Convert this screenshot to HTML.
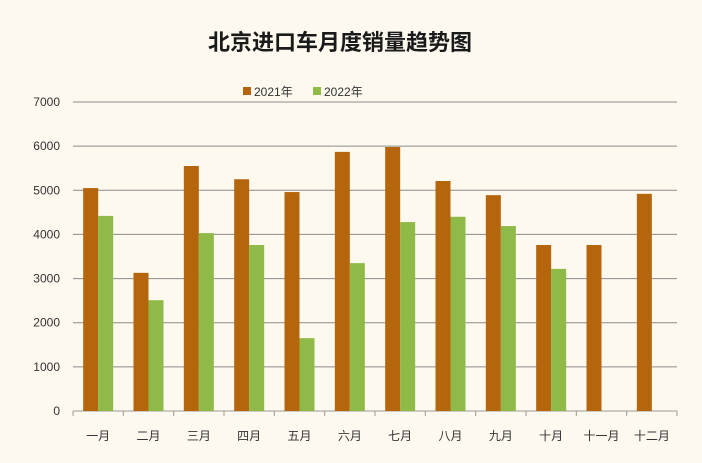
<!DOCTYPE html>
<html><head><meta charset="utf-8"><style>
body{margin:0;background:#fdf9ee;}
svg{display:block;font-family:"Liberation Sans","Noto Sans CJK SC",sans-serif;}
</style></head><body>
<svg id="c" width="702" height="463" viewBox="0 0 702 463">
<rect width="702" height="463" fill="#fdf9ee"/>
<text x="340" y="50" text-anchor="middle" font-size="22" font-weight="bold" fill="#1a1a1a">北京进口车月度销量趋势图</text>
<g>
<rect x="243" y="87" width="8" height="8" fill="#b5650b"/>
<text x="254" y="96" font-size="12" fill="#333">2021年</text>
<rect x="313" y="87" width="8" height="8" fill="#8fba48"/>
<text x="324" y="96" font-size="12" fill="#333">2022年</text>
</g>
<g id="grid"></g><g id="bars"></g><g id="axes"></g>
</svg>
<script>
const categories=["一月","二月","三月","四月","五月","六月","七月","八月","九月","十月","十一月","十二月"];
const sales2021=[5050,3130,5550,5250,4960,5870,5980,5210,4890,3760,3760,4920];
const sales2022=[4420,2510,4030,3760,1650,3350,4280,4400,4190,3220,null,null];
const yTicks=[0,1000,2000,3000,4000,5000,6000,7000];
const NS="http://www.w3.org/2000/svg";
const X0=73,X1=677,Y0=411,Y1=102,YMAX=7000;
const bw=(X1-X0)/categories.length;
const y=v=>Y0-(v/YMAX)*(Y0-Y1);
const xc=i=>X0+bw*(i+0.5);
function mk(tag,attrs,parent){const e=document.createElementNS(NS,tag);for(const k in attrs)e.setAttribute(k,attrs[k]);document.getElementById(parent).appendChild(e);return e;}
yTicks.forEach(t=>{
 const l=mk('line',{x1:X0,x2:X1,y1:y(t),y2:y(t),stroke:t===0?'#999':'#8a8a8a','stroke-width':1},'grid');
 
 
 const tx=mk('text',{x:60,y:y(t)+4,'text-anchor':'end','font-size':12,fill:'#333'},'axes');
 tx.textContent=t;
 
 
});
categories.forEach((c,i)=>{
 const tk=mk('line',{x1:X0+bw*i,x2:X0+bw*i,y1:Y0,y2:Y0+5,stroke:'#999'},'axes');
 
 
 const tx=mk('text',{x:xc(i),y:440,'text-anchor':'middle','font-size':12,fill:'#333'},'axes');
 tx.textContent=c;
 
 
 const w=15;
 if(sales2021[i]!=null){
  const r=mk('rect',{x:xc(i)-w,y:y(sales2021[i]),width:w,height:Y0-y(sales2021[i]),fill:'#b5650b'},'bars');
  
  
 }
 if(sales2022[i]!=null){
  const r=mk('rect',{x:xc(i),y:y(sales2022[i]),width:w,height:Y0-y(sales2022[i]),fill:'#8fba48'},'bars');
  
  
 }
});
const tk=mk('line',{x1:X1,x2:X1,y1:Y0,y2:Y0+5,stroke:'#999'},'axes');


</script>
</body></html>
